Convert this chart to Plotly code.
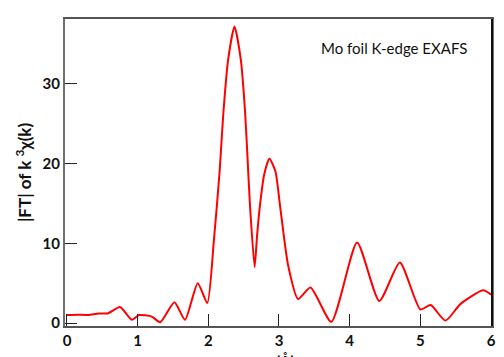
import plotly.graph_objects as go

# Fourier-transform magnitude of k^3-weighted EXAFS, Mo foil
r_angstrom = [0.00, 0.15, 0.30, 0.45, 0.58, 0.75, 0.92, 1.02, 1.20, 1.32,
              1.52, 1.67, 1.85, 1.985, 2.08, 2.16, 2.21, 2.28, 2.37, 2.46,
              2.52, 2.556, 2.59, 2.655, 2.69, 2.73, 2.79, 2.865, 2.95, 3.015,
              3.13, 3.27, 3.445, 3.74, 4.105, 4.42, 4.71, 5.00, 5.145, 5.355,
              5.57, 5.89, 6.00]
ft_magnitude = [1.0, 1.05, 1.0, 1.2, 1.2, 2.0, 0.4, 1.0, 0.8, 0.1,
                2.6, 0.4, 5.0, 2.5, 10.5, 19.0, 26.0, 33.0, 37.2, 33.0,
                26.5, 20.5, 14.7, 7.0, 11.0, 14.7, 18.6, 20.6, 19.0, 14.7,
                7.2, 3.0, 4.45, 0.15, 10.1, 2.75, 7.6, 1.7, 2.25, 0.3,
                2.4, 4.1, 3.55]

x_ticks = [0, 1, 2, 3, 4, 5, 6]
y_ticks = [0, 10, 20, 30]

tick_font = dict(family="Lato", size=15, color="#111111", weight="bold")

fig = go.Figure()
fig.add_trace(go.Scatter(
    x=r_angstrom, y=ft_magnitude, mode="lines",
    line=dict(color="#ff0000", width=2, shape="spline", smoothing=0.6),
    showlegend=False, hoverinfo="skip",
))

fig.update_layout(
    width=504, height=357,
    margin=dict(l=65, r=8, t=19, b=30),
    paper_bgcolor="white", plot_bgcolor="white",
    xaxis=dict(
        range=[-0.028, 6.014], tickvals=x_ticks, ticktext=[str(t) for t in x_ticks],
        ticks="inside", ticklen=12, tickwidth=1, tickcolor="#222222",
        showline=True, linecolor="#555555", linewidth=1.5, mirror=True,
        showgrid=False, zeroline=False, tickfont=tick_font,
    ),
    yaxis=dict(
        range=[-0.375, 38.125], tickvals=y_ticks, ticktext=[str(t) for t in y_ticks],
        ticks="inside", ticklen=12, tickwidth=1, tickcolor="#222222",
        showline=True, linecolor="#707070", linewidth=2, mirror=True,
        showgrid=False, zeroline=False, tickfont=tick_font,
        title=dict(text="|FT| of k <sup>3</sup>χ(k)", standoff=7,
                   font=dict(family="Lato", size=17, color="#111111", weight="bold")),
    ),
    annotations=[
        dict(text="Mo foil K-edge EXAFS", xref="paper", yref="paper",
             x=0.77, y=0.905, xanchor="center", yanchor="middle", showarrow=False,
             font=dict(family="Lato", size=15, color="#111111")),
        dict(text="r (Å)", xref="paper", yref="paper",
             x=0.505, y=-0.078, xanchor="center", yanchor="top", showarrow=False,
             font=dict(family="Lato", size=15, color="#111111", weight="bold")),
    ],
    shapes=[
        dict(type="line", xref="paper", yref="paper", x0=1, x1=1, y0=0, y1=1,
             line=dict(color="#111111", width=2)),
    ],
)

fig.write_html("out.html")
